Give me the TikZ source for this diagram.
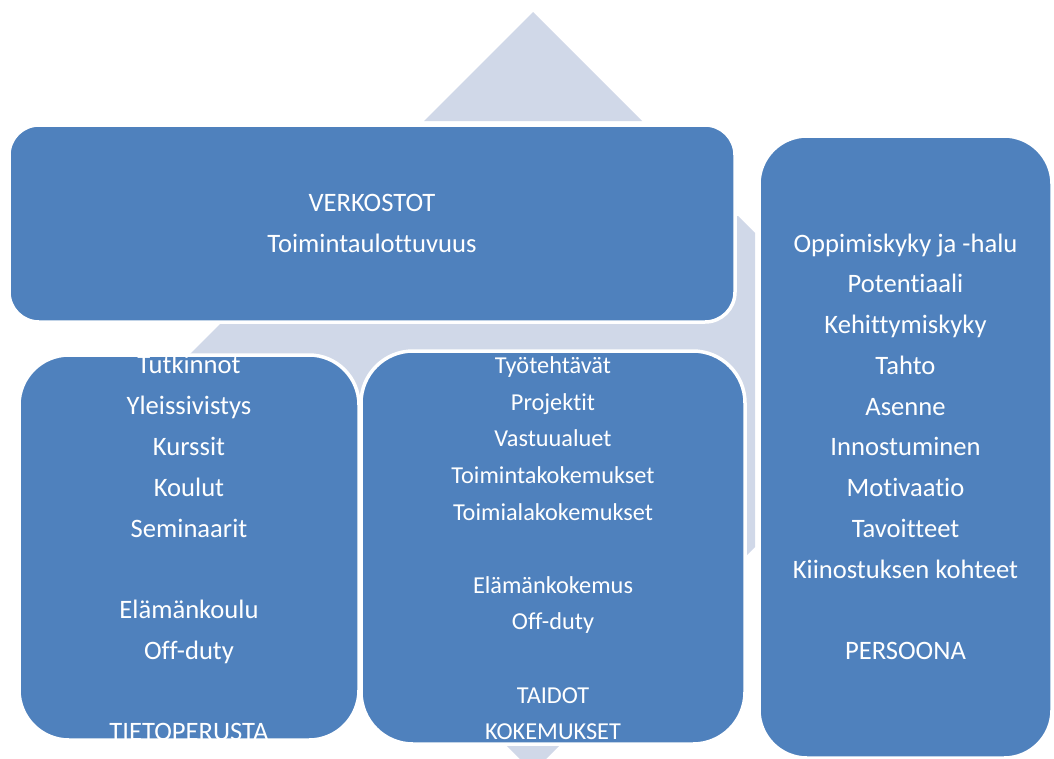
\documentclass[tikz,border=0pt]{standalone}
\usepackage{fontspec}
\setmainfont[Ligatures=NoCommon]{Carlito}
\definecolor{boxblue}{HTML}{4F81BD}
\definecolor{lightbg}{HTML}{D0D8E8}
\begin{document}
\begin{tikzpicture}[x=1pt,y=-1pt,
  box/.style={draw=white, line width=3.5pt, fill=boxblue, inner sep=0pt},
  bigtxt/.style={text=white, font=\fontsize{26.6}{31}\selectfont, anchor=base, inner sep=0pt},
  smalltxt/.style={text=white, font=\fontsize{24.3}{28}\selectfont, anchor=base, inner sep=0pt},
  bg/.style={fill=lightbg, draw=none}]
\useasboundingbox (0,0) rectangle (1054,758);
\clip (0,0) rectangle (1054,758);
% background arrow shape
\fill[bg] (533,12) -- (424,121) -- (642,121) -- cycle;
\fill[bg] (328,216) -- (738,216) -- (755,233) -- (755,547) -- (740,562) -- (328,562) -- (154,390) -- cycle;
\fill[bg] (533,772) -- (424,663) -- (642,663) -- cycle;
% boxes
\node[box, minimum width=726pt, minimum height=197pt, rounded corners=30pt] (top) at (372,223.5) {};
\node[box, minimum width=340pt, minimum height=385pt, rounded corners=50pt] (left) at (189,547.5) {};
\node[box, minimum width=384pt, minimum height=393pt, rounded corners=52pt] (mid) at (553,547.5) {};
\node[box, minimum width=293pt, minimum height=622pt, rounded corners=48pt] (right) at (905.5,447) {};
% top box text
\node[bigtxt] (t1) at (372,211) {VERKOSTOT};
\node[bigtxt] (t2) at (372,252) {Toimintaulottuvuus};
% left box text
\node[bigtxt] (l1) at (189,373) {Tutkinnot};
\node[bigtxt] (l2) at (189,414) {Yleissivistys};
\node[bigtxt] (l3) at (189,455) {Kurssit};
\node[bigtxt] (l4) at (189,496) {Koulut};
\node[bigtxt] (l5) at (189,537) {Seminaarit};
\node[bigtxt] (l6) at (189,618) {Elämänkoulu};
\node[bigtxt] (l7) at (189,659) {Off-duty};
\node[bigtxt] (l8) at (189,740) {TIETOPERUSTA};
% middle box text
\node[smalltxt] (m1) at (553,373) {Työtehtävät};
\node[smalltxt] (m2) at (553,410) {Projektit};
\node[smalltxt] (m3) at (553,446) {Vastuualuet};
\node[smalltxt] (m4) at (553,483) {Toimintakokemukset};
\node[smalltxt] (m5) at (553,520) {Toimialakokemukset};
\node[smalltxt] (m6) at (553,593) {Elämänkokemus};
\node[smalltxt] (m7) at (553,629) {Off-duty};
\node[smalltxt] (m8) at (553,703) {TAIDOT};
\node[smalltxt] (m9) at (553,739) {KOKEMUKSET};
% right box text
\node[bigtxt] (r1) at (905.5,252) {Oppimiskyky ja -halu};
\node[bigtxt] (r2) at (905.5,292.75) {Potentiaali};
\node[bigtxt] (r3) at (905.5,333.5) {Kehittymiskyky};
\node[bigtxt] (r4) at (905.5,374.25) {Tahto};
\node[bigtxt] (r5) at (905.5,415) {Asenne};
\node[bigtxt] (r6) at (905.5,455.75) {Innostuminen};
\node[bigtxt] (r7) at (905.5,496.5) {Motivaatio};
\node[bigtxt] (r8) at (905.5,537.25) {Tavoitteet};
\node[bigtxt] (r9) at (905.5,578) {Kiinostuksen kohteet};
\node[bigtxt] (r10) at (905.5,659.5) {PERSOONA};
\end{tikzpicture}
\end{document}
